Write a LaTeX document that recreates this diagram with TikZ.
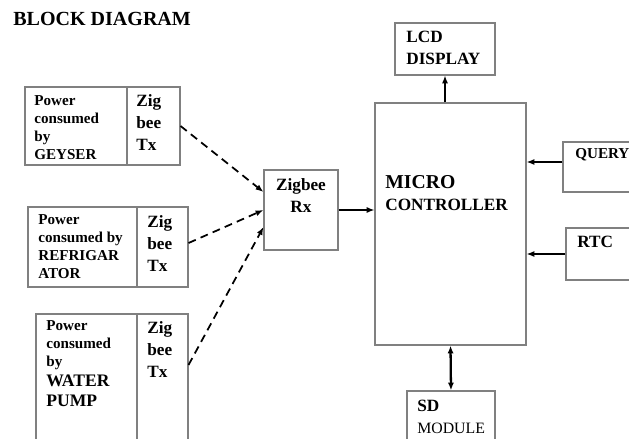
\documentclass[tikz,border=0pt]{standalone}
\usepackage{fontspec}
\setmainfont{Liberation Serif}
\usepackage{tikz}
\usetikzlibrary{arrows,arrows.meta,positioning,calc}
\tikzstyle{blk} = [rectangle, draw=black!50, line width=0.6pt, inner sep=0pt]
\tikzstyle{txt} = [anchor=north west, inner sep=0pt, align=left, font=\fontsize{8.6}{10.3}\selectfont\bfseries]
\tikzstyle{zigtxt} = [anchor=north west, inner sep=0pt, align=left, font=\fontsize{9.8}{12.5}\selectfont\bfseries]
\tikzstyle{link} = [line width=0.8pt, -{Latex[length=4.5pt,width=3.5pt]}]
\tikzstyle{wlink} = [line width=1pt, dash pattern=on 4.5pt off 3pt, -{Latex[length=4.5pt,width=3.5pt]}]

\begin{document}
\begin{tikzpicture}[x=0.02cm, y=-0.02cm]
    \clip (0,0) rectangle (629,439);
    \node[anchor=north west, inner sep=0pt, font=\fontsize{11.4}{13}\selectfont\bfseries] (title) at (13,12) {BLOCK DIAGRAM};
    % transmitters
    \node[blk, minimum width=2.04cm, minimum height=1.56cm] (geyL) at (76,126) {};
    \node[blk, minimum width=1.06cm, minimum height=1.56cm] (geyR) at (153.5,126) {};
    \node[txt] (geyT) at (34,95) {Power\\consumed\\by\\GEYSER};
    \node[zigtxt] (geyZ) at (136,94) {Zig\\bee\\Tx};
    \node[blk, minimum width=2.18cm, minimum height=1.6cm] (refL) at (82.5,247) {};
    \node[blk, minimum width=1.02cm, minimum height=1.6cm] (refR) at (162.5,247) {};
    \node[txt] (refT) at (38,214) {Power\\consumed by\\REFRIGAR\\ATOR};
    \node[zigtxt] (refZ) at (147,215) {Zig\\bee\\Tx};
    \node[blk, minimum width=2.02cm, minimum height=2.72cm] (watL) at (86.5,382) {};
    \node[blk, minimum width=1.02cm, minimum height=2.72cm] (watR) at (162.5,382) {};
    \node[txt] (watT) at (46,320) {Power\\consumed\\by\\[1pt]{\fontsize{10}{12}\selectfont WATER}\\[1pt]{\fontsize{10}{12}\selectfont PUMP}};
    \node[zigtxt] (watZ) at (147,321) {Zig\\bee\\Tx};
    % receiver and controller
    \node[blk, minimum width=1.48cm, minimum height=1.6cm] (rx) at (301,210) {};
    \node[zigtxt, anchor=north, align=center] (rxT) at (301,178) {Zigbee\\Rx};
    \node[blk, minimum width=3.02cm, minimum height=4.84cm] (mc) at (450.5,224) {};
    \node[zigtxt] (mcT) at (385,175) {{\fontsize{11.2}{13}\selectfont MICRO}\\CONTROLLER};
    \node[blk, minimum width=2cm, minimum height=1.04cm] (lcd) at (445,49) {};
    \node[zigtxt] (lcdT) at (406,31) {LCD\\DISPLAY};
    \node[blk, minimum width=1.54cm, minimum height=1cm] (qry) at (601.5,167) {};
    \node[txt] (qryT) at (575,148) {QUERY};
    \node[blk, minimum width=1.48cm, minimum height=1.04cm] (rtc) at (603,254) {};
    \node[zigtxt] (rtcT) at (577,236) {RTC};
    \node[blk, minimum width=1.76cm, minimum height=1.18cm] (sd) at (451,420.5) {};
    \node[zigtxt] (sdT) at (417,400) {SD\\{\fontsize{9}{11}\selectfont\mdseries MODULE}};
    % connections
    \draw[wlink] (geyR.east) -- ([yshift=0.36cm]rx.west);
    \draw[wlink] ([yshift=0.08cm]refR.east) -- (rx.west);
    \draw[wlink] ([yshift=0.34cm]watR.east) -- ([yshift=-0.34cm]rx.west);
    \draw[link] (rx.east) -- (rx.east -| mc.west);
    \draw[link] (lcd.south |- mc.north) -- (lcd.south);
    \draw[link, line width=1.3pt] ([yshift=0.1cm]qry.west) coordinate (q) -- (q -| mc.east);
    \draw[link, line width=1.3pt] (rtc.west) -- (rtc.west -| mc.east);
    \draw[link, line width=1.3pt, {Latex[length=4.5pt,width=3.5pt]}-{Latex[length=4.5pt,width=3.5pt]}] (mc.south) -- (sd.north);
\end{tikzpicture}
\end{document}
